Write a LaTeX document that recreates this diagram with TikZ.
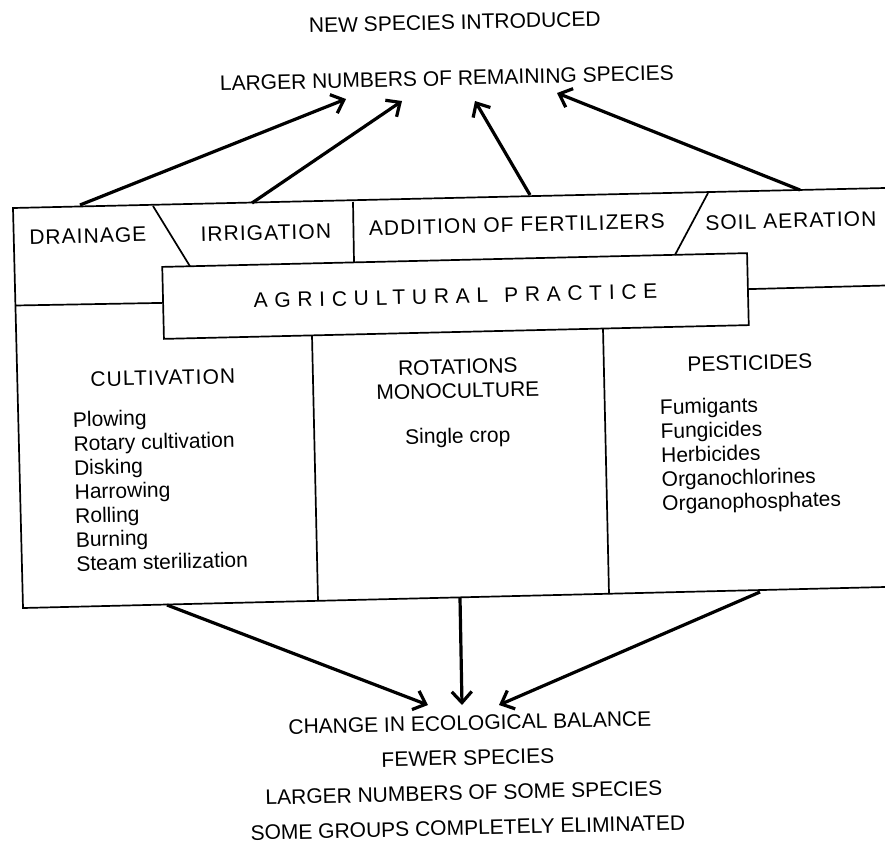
\documentclass[tikz,border=0pt]{standalone}
\usepackage{fontspec}
\setmainfont{Liberation Sans}
\usetikzlibrary{arrows.meta}

\begin{document}
\begin{tikzpicture}[x=1pt,y=-1pt,
  frame/.style={line width=1.7pt, line join=miter},
  flow/.style={line width=3.2pt, -{Straight Barb[length=11pt,width=20pt]}},
  lbl/.style={font=\fontsize{21}{24}\selectfont, rotate=1.35, anchor=base, inner sep=0pt},
  spaced/.style={lbl, font=\fontsize{21}{24}\selectfont\addfontfeature{LetterSpace=5}},
  item/.style={lbl, anchor=base west},
]
\useasboundingbox (0,0) rectangle (885,844);

% outer frame, open on the right
\coordinate (fTR) at (885,188);
\coordinate (fTL) at (13,208);
\coordinate (fBL) at (23,608);
\coordinate (fBR) at (885,587);
\draw[frame] (fTR) -- (fTL) -- (fBL) -- (fBR);

% central box
\node[draw, frame, rotate=1.35, minimum width=585pt, minimum height=72pt,
      inner sep=0pt, font=\fontsize{21}{24}\selectfont\addfontfeature{LetterSpace=32}]
  (agri) at (455.5,296) {AGRICULTURAL\hspace{16pt}PRACTICE};

% side rules level with the box
\coordinate (sideL) at (15,305.5);
\coordinate (sideR) at (885,285.5);
\draw[frame] (sideL) -- (agri.west);
\draw[frame] (agri.east) -- (sideR);

% dividers of the upper row
\coordinate (d1a) at (153,206);  \coordinate (d1b) at (190,266.3);
\coordinate (d2a) at (353,202);  \coordinate (d2b) at (354,262.5);
\coordinate (d3a) at (708,193);  \coordinate (d3b) at (675,254.9);
\draw[frame] (d1a) -- (d1b);
\draw[frame] (d2a) -- (d2b);
\draw[frame] (d3a) -- (d3b);

% dividers of the lower columns
\coordinate (c1a) at (312,335.5); \coordinate (c1b) at (318,601);
\coordinate (c2a) at (603,328.6); \coordinate (c2b) at (609,594);
\draw[frame] (c1a) -- (c1b);
\draw[frame] (c2a) -- (c2b);

% upper row labels
\node[spaced] (drain) at (88,243)  {DRAINAGE};
\node[spaced] (irrig) at (266,240) {IRRIGATION};
\node[spaced] (fert)  at (517,232) {ADDITION OF FERTILIZERS};
\node[spaced] (soil)  at (791,228) {SOIL AERATION};

% column headings
\node[spaced] (cult) at (163,385) {CULTIVATION};
\node[lbl] (rot)  at (458,374) {ROTATIONS};
\node[lbl] (mono) at (458,398) {MONOCULTURE};
\node[lbl] (single) at (458,443) {Single crop};
\node[lbl] (pest) at (750,370) {PESTICIDES};

% column lists
\foreach \t [count=\i from 0] in {Plowing,Rotary cultivation,Disking,Harrowing,Rolling,Burning,Steam sterilization}
  \node[item] (cult\i) at ({73+0.57*\i},{427+24*\i}) {\t};
\foreach \t [count=\i from 0] in {Fumigants,Fungicides,Herbicides,Organochlorines,Organophosphates}
  \node[item] (pest\i) at ({660+0.57*\i},{414.5+24*\i}) {\t};

% outcomes above
\node[lbl] (newsp) at (455,29.5) {NEW SPECIES INTRODUCED};
\node[lbl] (more)  at (447,85.5) {LARGER NUMBERS OF REMAINING SPECIES};

% outcomes below
\node[lbl] (change) at (470,730) {CHANGE IN ECOLOGICAL BALANCE};
\node[lbl] (fewer)  at (468,765) {FEWER SPECIES};
\node[lbl] (some)   at (464,800) {LARGER NUMBERS OF SOME SPECIES};
\node[lbl] (gone)   at (468,835) {SOME GROUPS COMPLETELY ELIMINATED};

% arrows up
\coordinate (u1) at (80,205);   \coordinate (t1) at (346,99);
\coordinate (u2) at (252,203);  \coordinate (t2) at (402,101);
\coordinate (u3) at (530,195);  \coordinate (t3) at (475,101);
\coordinate (u4) at (800,190);  \coordinate (t4) at (557,93);
\draw[flow] (u1) -- (t1);
\draw[flow] (u2) -- (t2);
\draw[flow] (u3) -- (t3);
\draw[flow] (u4) -- (t4);

% arrows down
\coordinate (l1) at (167,605);  \coordinate (b1) at (428,705);
\coordinate (l2) at (460,598);  \coordinate (b2) at (462,705);
\coordinate (l3) at (760,592);  \coordinate (b3) at (499,705);
\draw[flow] (l1) -- (b1);
\draw[flow] (l2) -- (b2);
\draw[flow] (l3) -- (b3);
\end{tikzpicture}
\end{document}
